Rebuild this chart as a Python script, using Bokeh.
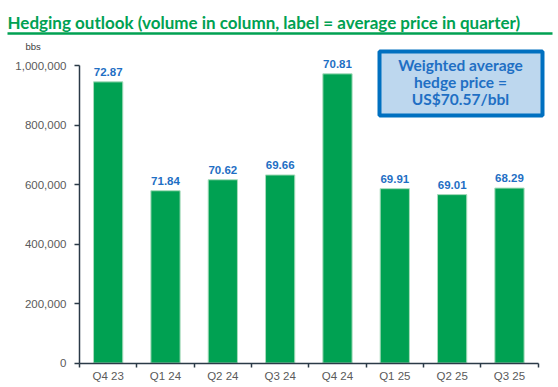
from bokeh.plotting import figure
from bokeh.models import (Range1d, LinearAxis, FixedTicker, ColumnDataSource,
                          LabelSet, Label, NumeralTickFormatter)
from bokeh.core.properties import value
from bokeh.embed import file_html
from bokeh.resources import INLINE

# ---- data ----
quarters = ["Q4 23", "Q1 24", "Q2 24", "Q3 24", "Q4 24", "Q1 25", "Q2 25", "Q3 25"]
volumes = [945000, 579000, 616000, 632000, 972000, 586000, 566000, 588000]
prices = ["72.87", "71.84", "70.62", "69.66", "70.81", "69.91", "69.01", "68.29"]
y_ticks = [0, 200000, 400000, 600000, 800000, 1000000]
title_text = "Hedging outlook (volume in column, label = average price in quarter)"
unit_text = "bbs"
box_lines = ["Weighted average", "hedge price =", "US$70.57/bbl"]

GREEN = "#00a152"
BLUE = "#1f6fc4"

# ---- geometry (picture pixels -> data) ----
W, H = 558, 387
X0, XPX = 79.0, 57.33          # px of x=0, px per category
Y0, YPX = 362.5, 297.5 / 1e6   # px of y=0, px per unit

def dx(px):
    return (px - X0) / XPX

def dy(py):
    return (Y0 - py) / YPX

p = figure(width=W, height=H, output_backend="svg", toolbar_location=None,
           x_range=Range1d(dx(0), dx(W)), y_range=Range1d(dy(H), dy(0)),
           x_axis_type=None, y_axis_type=None, min_border=0)
p.outline_line_color = None
p.background_fill_color = "white"

centers = [i + 0.5 for i in range(len(quarters))]
src = ColumnDataSource(dict(x=centers, top=volumes, price=prices, q=quarters))

p.vbar(x="x", top="top", width=0.51, source=src, fill_color=GREEN,
       line_color="#a8dcbc", line_width=1)

# y axis
yax = LinearAxis(ticker=FixedTicker(ticks=y_ticks), fixed_location=0,
                 bounds=(0, 1000000), formatter=NumeralTickFormatter(format="0,0"))
yax.axis_line_color = "#2b3a47"
yax.axis_line_width = 1.5
yax.major_tick_line_color = "#2b3a47"
yax.major_tick_line_width = 1.5
yax.major_tick_in = 0
yax.major_tick_out = 5
yax.minor_tick_line_color = None
yax.major_label_standoff = 8
yax.major_label_text_font = "Liberation Sans"
yax.major_label_text_font_size = "11.5px"
yax.major_label_text_color = "#5a5a5a"
p.add_layout(yax, "left")

# x axis: ticks at category boundaries
xax = LinearAxis(ticker=FixedTicker(ticks=list(range(len(quarters) + 1))),
                 fixed_location=0, bounds=(0, len(quarters)))
xax.axis_line_color = "#2b3a47"
xax.axis_line_width = 1.5
xax.major_tick_line_color = "#2b3a47"
xax.major_tick_line_width = 1.5
xax.major_tick_in = 0
xax.major_tick_out = 4
xax.minor_tick_line_color = None
xax.major_label_text_color = None
p.add_layout(xax, "below")

# x axis: category labels at centres
xlab = LinearAxis(ticker=FixedTicker(ticks=centers), fixed_location=0,
                  major_label_overrides={c: q for c, q in zip(centers, quarters)})
xlab.axis_line_color = None
xlab.major_tick_line_color = None
xlab.minor_tick_line_color = None
xlab.major_tick_in = 0
xlab.major_tick_out = 4
xlab.major_label_standoff = 3
xlab.major_label_text_font = "Liberation Sans"
xlab.major_label_text_font_size = "11.5px"
xlab.major_label_text_color = "#5a5a5a"
p.add_layout(xlab, "below")

# price labels above bars
p.add_layout(LabelSet(x="x", y="top", text="price", source=src, y_offset=6,
                      text_align="center", text_baseline="bottom",
                      text_font=value("Liberation Sans"), text_font_style="bold",
                      text_font_size="11.5px", text_color=BLUE))

# title + rule
p.add_layout(Label(x=dx(7), y=dy(21.5), text=title_text, text_font="Lato",
                   text_font_style="bold", text_font_size="17px",
                   text_color=GREEN, text_baseline="middle"))
p.segment(x0=[dx(7)], y0=[dy(33)], x1=[dx(552)], y1=[dy(33)],
          line_color=GREEN, line_width=2.5)

# unit label
p.add_layout(Label(x=dx(25), y=dy(46), text=unit_text, text_font="Liberation Sans",
                   text_font_size="9.5px", text_color="#404040",
                   text_baseline="middle"))

# highlight box
p.quad(left=[dx(379)], right=[dx(542)], top=[dy(51)], bottom=[dy(115)],
       fill_color="#bdd7ee", line_color="#0070c0", line_width=4)
for i, t in enumerate(box_lines):
    p.add_layout(Label(x=dx(460), y=dy(64 + 17.2 * i), text=t,
                       text_font="Lato", text_font_style="bold",
                       text_font_size="15.5px", text_color=BLUE,
                       text_align="center", text_baseline="middle"))

open("out.html", "w").write(file_html(p, INLINE))
